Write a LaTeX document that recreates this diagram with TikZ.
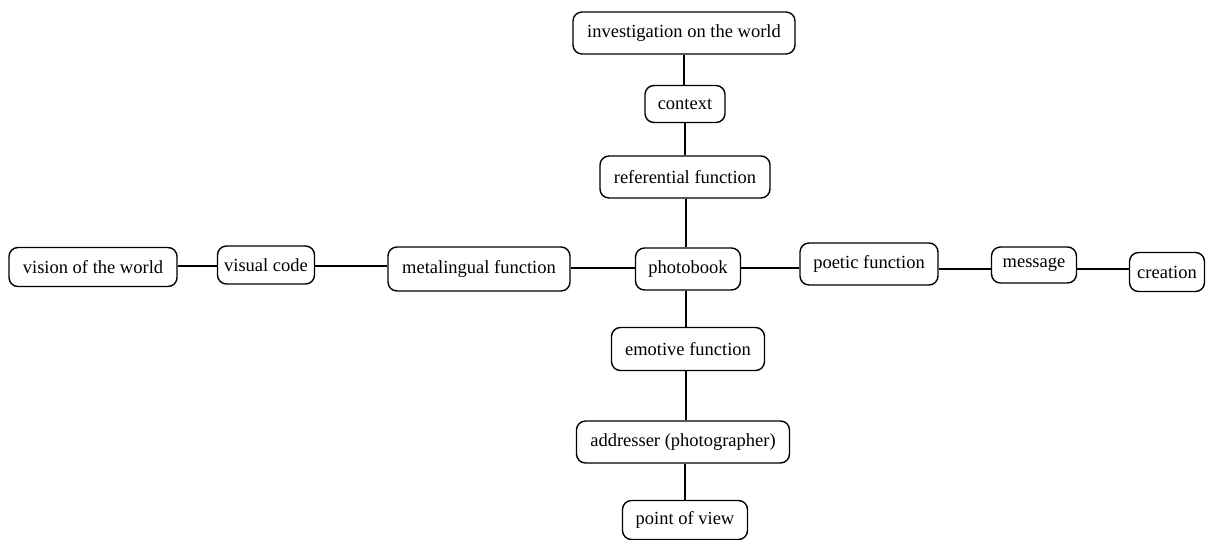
\documentclass[tikz,border=0pt]{standalone}
\usepackage{fontspec}
\setmainfont{Liberation Serif}
\begin{document}
\begin{tikzpicture}[x=1pt,y=-1pt,
  box/.style={draw=black, line width=1.4pt, rounded corners=9pt, fill=white,
    font=\fontsize{18.5}{21}\selectfont, inner xsep=6pt, minimum height=#1},
  box/.default=40pt,
  link/.style={line width=1.4pt}]
\useasboundingbox (0,0) rectangle (1210,539);
\node[box=42pt, minimum width=222pt] (inv) at (684,33) {investigation on the world};
\node[box=37pt, minimum width=80pt] (ctx) at (685,104) {context};
\node[box=42pt, minimum width=170pt] (ref) at (685,177) {referential function};
\node[box=42pt, minimum width=105pt] (pb) at (688,269) {photobook};
\node[box=44pt, minimum width=182pt] (meta) at (479,269) {metalingual function};
\node[box=38pt, minimum width=97pt] (vc) at (266,265) {visual code};
\node[box=39pt, minimum width=168pt] (vow) at (93,267) {vision of the world};
\node[box=42pt, minimum width=138pt] (poe) at (869,264) {poetic function};
\node[box=36pt, minimum width=85pt] (msg) at (1034,265) {message};
\node[box=39pt, minimum width=75pt] (cre) at (1167,272) {creation};
\node[box=43pt, minimum width=153pt] (emo) at (688,349) {emotive function};
\node[box=42pt, minimum width=213pt] (adr) at (683,442) {addresser (photographer)};
\node[box=39pt, minimum width=125pt] (pov) at (685,520) {point of view};
\draw[link] (inv.south -| 684,0) -- (ctx.north -| 684,0);
\draw[link] (ctx.south -| 685,0) -- (ref.north -| 685,0);
\draw[link] (ref.south -| 686,0) -- (pb.north -| 686,0);
\draw[link] (pb.south -| 686,0) -- (emo.north -| 686,0);
\draw[link] (emo.south -| 686,0) -- (adr.north -| 686,0);
\draw[link] (adr.south -| 685,0) -- (pov.north -| 685,0);
\draw[link] (vow.east |- 0,266) -- (vc.west |- 0,266);
\draw[link] (vc.east |- 0,266) -- (meta.west |- 0,266);
\draw[link] (meta.east |- 0,268) -- (pb.west |- 0,268);
\draw[link] (pb.east |- 0,268) -- (poe.west |- 0,268);
\draw[link] (poe.east |- 0,269) -- (msg.west |- 0,269);
\draw[link] (msg.east |- 0,269) -- (cre.west |- 0,269);
\end{tikzpicture}
\end{document}
